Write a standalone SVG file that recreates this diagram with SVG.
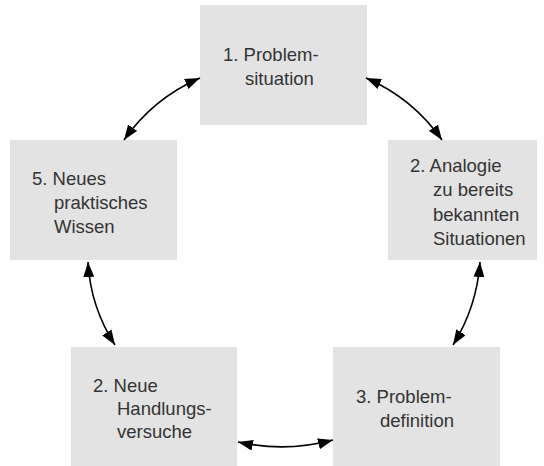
<svg xmlns="http://www.w3.org/2000/svg" width="544" height="466" viewBox="0 0 544 466">
  <style>
    .box { fill: #e3e3e3; }
    .lbl { font-family: "Liberation Sans", Arial, sans-serif; font-size: 18.5px; fill: #333; }
    .link { fill: none; stroke: #000; stroke-width: 1.6; }
  </style>
  <defs>
    <marker id="head" viewBox="0 0 15 11" refX="15" refY="5.5" markerWidth="15" markerHeight="11" markerUnits="userSpaceOnUse" orient="auto-start-reverse">
      <path d="M0,0 L15,5.5 L0,11 Z" fill="#000"/>
    </marker>
  </defs>
  <rect width="544" height="466" fill="#fff"/>

  <g id="node-1">
    <rect class="box" x="200" y="5" width="167" height="120"/>
    <text class="lbl"><tspan x="223" y="61">1. Problem-</tspan><tspan x="245" y="85">situation</tspan></text>
  </g>
  <g id="node-2">
    <rect class="box" x="388" y="140" width="149" height="120"/>
    <text class="lbl"><tspan x="410" y="172">2. Analogie</tspan><tspan x="433" y="196">zu bereits</tspan><tspan x="433" y="221">bekannten</tspan><tspan x="433" y="245">Situationen</tspan></text>
  </g>
  <g id="node-3">
    <rect class="box" x="333" y="347" width="167" height="120"/>
    <text class="lbl"><tspan x="356" y="403">3. Problem-</tspan><tspan x="380" y="427">definition</tspan></text>
  </g>
  <g id="node-4">
    <rect class="box" x="71" y="347" width="166" height="120"/>
    <text class="lbl"><tspan x="93" y="392">2. Neue</tspan><tspan x="117" y="415">Handlungs-</tspan><tspan x="117" y="438">versuche</tspan></text>
  </g>
  <g id="node-5">
    <rect class="box" x="10" y="140" width="167" height="120"/>
    <text class="lbl"><tspan x="32" y="185">5. Neues</tspan><tspan x="54" y="209">praktisches</tspan><tspan x="54" y="233">Wissen</tspan></text>
  </g>

  <g id="connectors">
    <path class="link" d="M124,140 A180,180 0 0,1 200,78" marker-start="url(#head)" marker-end="url(#head)"/>
    <path class="link" d="M366,78 A180,180 0 0,1 442,140" marker-start="url(#head)" marker-end="url(#head)"/>
    <path class="link" d="M480,262 A180,180 0 0,1 453,345" marker-start="url(#head)" marker-end="url(#head)"/>
    <path class="link" d="M333,440 A200,200 0 0,1 238,442" marker-start="url(#head)" marker-end="url(#head)"/>
    <path class="link" d="M115,345 A170,170 0 0,1 88,262" marker-start="url(#head)" marker-end="url(#head)"/>
  </g>
</svg>
